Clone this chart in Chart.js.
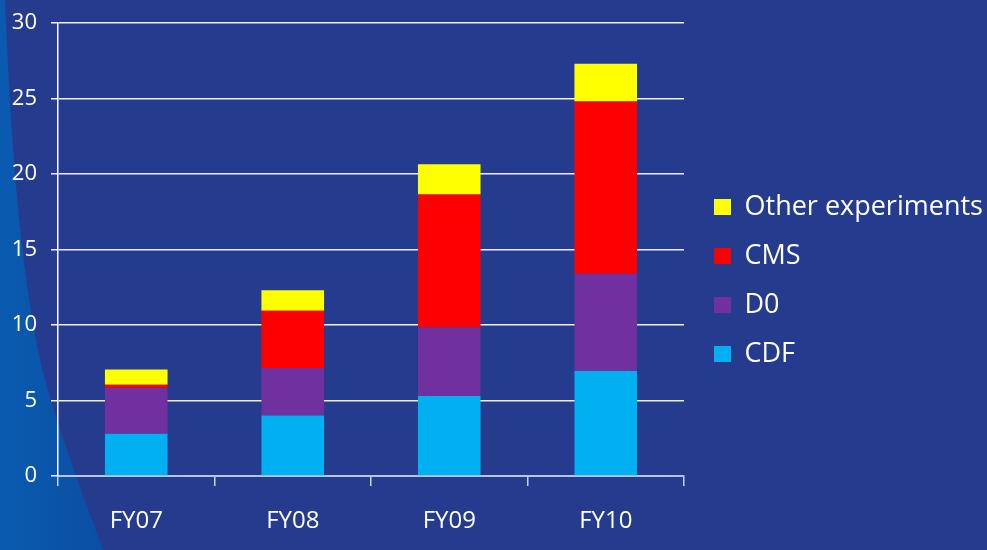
<!DOCTYPE html>
<html>
<head>
<meta charset="utf-8">
<script src="https://cdn.jsdelivr.net/npm/chart.js@4"></script>
<style>
html,body{margin:0;padding:0;background:#253c8e;}
#wrap{width:987px;height:550px;position:relative;}
</style>
</head>
<body>
<div id="wrap"><canvas id="c" width="987" height="550"></canvas></div>
<script>
const categories = ["FY07", "FY08", "FY09", "FY10"];
const cdf = [2.8, 4.0, 5.3, 6.95];
const d0 = [3.05, 3.15, 4.55, 6.45];
const cms = [0.2, 3.8, 8.8, 11.4];
const other = [1.0, 1.35, 2.0, 2.5];
const yTicks = [0, 5, 10, 15, 20, 25, 30];

const bgPlugin = {
  id: 'bg',
  beforeDraw(chart) {
    const ctx = chart.ctx;
    const w = chart.width, h = chart.height;
    ctx.save();
    ctx.fillStyle = '#253c8e';
    ctx.fillRect(0, 0, w, h);
    const g = ctx.createLinearGradient(0, 0, 100, 0);
    g.addColorStop(0, '#0a5bb0');
    g.addColorStop(1, '#0a4fa3');
    ctx.fillStyle = g;
    ctx.beginPath();
    ctx.moveTo(0, 0);
    ctx.lineTo(5, 0);
    ctx.bezierCurveTo(12, 180, 25, 300, 45, 380);
    ctx.bezierCurveTo(65, 450, 85, 500, 103, 550);
    ctx.lineTo(0, 550);
    ctx.closePath();
    ctx.fill();
    ctx.restore();
  }
};

const legendFix = {
  id: 'legendFix',
  afterInit(chart) {
    const lg = chart.legend;
    if (lg) {
      const orig = lg.fit.bind(lg);
      lg.fit = function () { orig(); this.width = 303; };
    }
  },
  afterLayout(chart) {
    const lg = chart.legend;
    if (lg) { lg.left += 8; lg.right += 8; lg.top -= 6; lg.bottom -= 6; }
  }
};

new Chart(document.getElementById('c'), {
  type: 'bar',
  data: {
    labels: categories,
    datasets: [
      { label: 'CDF', data: cdf, backgroundColor: '#00b0f0' },
      { label: 'D0', data: d0, backgroundColor: '#7030a0' },
      { label: 'CMS', data: cms, backgroundColor: '#ff0000' },
      { label: 'Other experiments', data: other, backgroundColor: '#ffff00' }
    ]
  },
  options: {
    responsive: false,
    animation: false,
    devicePixelRatio: 1,
    layout: { padding: { top: 23, left: 0, right: 0, bottom: 0 } },
    datasets: { bar: { categoryPercentage: 1, barPercentage: 0.4, borderWidth: 0 } },
    plugins: {
      tooltip: { enabled: false },
      legend: {
        position: 'right',
        reverse: true,
        labels: {
          color: '#ffffff',
          font: { family: 'Open Sans', size: 27 },
          boxWidth: 17,
          boxHeight: 16,
          padding: 22
        }
      }
    },
    scales: {
      x: {
        stacked: true,
        offset: true,
        grid: { offset: true, drawOnChartArea: false, drawTicks: true, tickLength: 10, color: '#c8d2f5', lineWidth: 1.5 },
        border: { display: true, color: '#b8c4f0', width: 2 },
        ticks: { color: '#ffffff', font: { family: 'Open Sans', size: 24 }, padding: 21 },
        afterFit(s) { s.height = 74; }
      },
      y: {
        stacked: true,
        min: 0,
        max: 30,
        afterBuildTicks(s) { s.ticks = yTicks.map(v => ({ value: v })); },
        grid: { color: 'rgba(255,255,255,0.92)', lineWidth: 1.5, tickLength: 7 },
        border: { display: true, color: '#ffffff', width: 1.5 },
        ticks: { color: '#ffffff', font: { family: 'Open Sans', size: 22 }, padding: 14 },
        afterFit(s) { s.width = 58; s.paddingTop = 10; s.paddingBottom = 10; }
      }
    }
  },
  plugins: [bgPlugin, legendFix]
});
</script>
</body>
</html>
